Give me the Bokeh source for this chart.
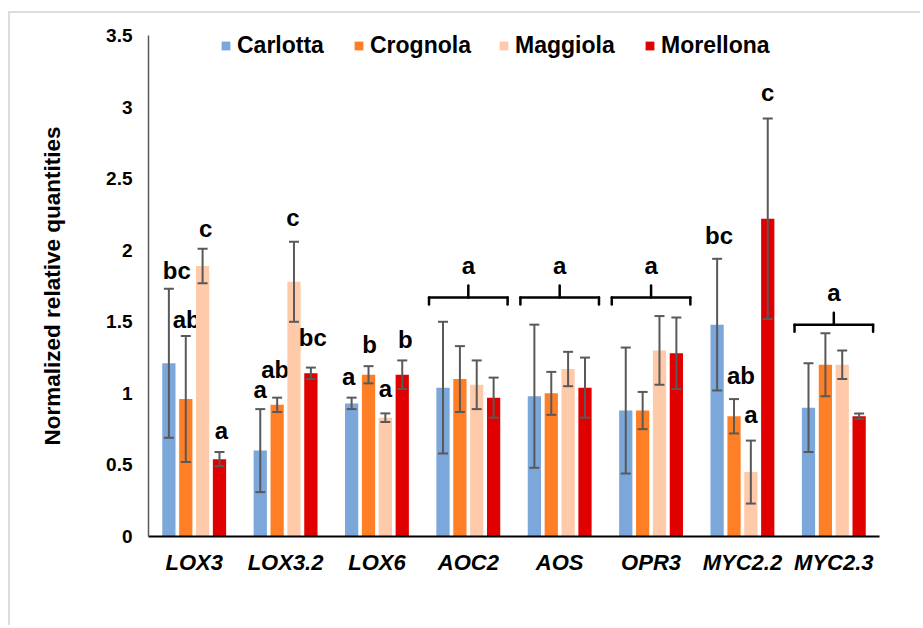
from bokeh.plotting import figure
from bokeh.models import (ColumnDataSource, FactorRange, Range1d, Whisker, TeeHead,
                          FixedTicker, NumeralTickFormatter, Legend, LegendItem)
from bokeh.transform import dodge
from bokeh.core.properties import value
from bokeh.embed import file_html
from bokeh.resources import INLINE

# ---------------- data ----------------
genes = ["LOX3", "LOX3.2", "LOX6", "AOC2", "AOS", "OPR3", "MYC2.2", "MYC2.3"]
cultivars = ["Carlotta", "Crognola", "Maggiola", "Morellona"]

carlotta = [1.21, 0.60, 0.93, 1.04, 0.98, 0.88, 1.48, 0.90]
carlotta_err = [0.52, 0.29, 0.04, 0.46, 0.50, 0.44, 0.46, 0.31]
crognola = [0.96, 0.92, 1.13, 1.10, 1.00, 0.88, 0.84, 1.20]
crognola_err = [0.44, 0.05, 0.06, 0.23, 0.15, 0.13, 0.12, 0.22]
maggiola = [1.89, 1.78, 0.83, 1.06, 1.17, 1.30, 0.45, 1.20]
maggiola_err = [0.12, 0.28, 0.03, 0.17, 0.12, 0.24, 0.22, 0.10]
morellona = [0.54, 1.14, 1.13, 0.97, 1.04, 1.28, 2.22, 0.84]
morellona_err = [0.05, 0.04, 0.10, 0.14, 0.21, 0.25, 0.70, 0.02]

letters_carlotta = ["bc", "a", "a", "", "", "", "bc", ""]
letters_crognola = ["ab", "ab", "b", "", "", "", "ab", ""]
letters_maggiola = ["c", "c", "a", "", "", "", "a", ""]
letters_morellona = ["a", "bc", "b", "", "", "", "c", ""]

bracket_genes = ["AOC2", "AOS", "OPR3", "MYC2.3"]
bracket_letters = ["a", "a", "a", "a"]

y_ticks = [0, 0.5, 1, 1.5, 2, 2.5, 3, 3.5]

# ---------------- layout / style ----------------
colors = ["#7BA7DB", "#FF7F27", "#FFCAAA", "#E00000"]
offsets = [-0.277, -0.092, 0.092, 0.277]
bar_w = 0.145
err_color = "#595959"
FONT = "Liberation Sans"

W, H = 912, 614
ML, MT = 138, 22            # canvas starts at (10, 13) on the page
FRAME_W, FRAME_H = 731, 501
MR = W - ML - FRAME_W
MB = H - MT - FRAME_H
px_y = FRAME_H / 3.5        # pixels per y unit
px_x = FRAME_W / len(genes) # pixels per category
BASE_FIX = 8                # rendered baseline sits lower than requested

# letter nudges (px right, px of baseline above the error bar top)
nudge = {
    ("LOX3", 0): (8, 10), ("LOX3", 1): (1, 9), ("LOX3", 2): (3, 12), ("LOX3", 3): (2, 14),
    ("LOX3.2", 0): (0, 12), ("LOX3.2", 1): (-2, 20), ("LOX3.2", 2): (-1, 16), ("LOX3.2", 3): (2, 22),
    ("LOX6", 0): (-3, 13), ("LOX6", 1): (1, 14), ("LOX6", 2): (0, 17), ("LOX6", 3): (3, 13),
    ("MYC2.2", 0): (2, 15), ("MYC2.2", 1): (7, 16), ("MYC2.2", 2): (0, 18), ("MYC2.2", 3): (0, 18),
}
bracket_y = [1.67, 1.67, 1.67, 1.48]
bracket_half = 0.43
bracket_drop = 7 / px_y
bracket_stem = 12 / px_y
bracket_text_gap = (12 + BASE_FIX) / px_y
legend_x = [72, 205, 350, 496]   # px from frame left
legend_y = 477                     # px from frame bottom

vals = [carlotta, crognola, maggiola, morellona]
errs = [carlotta_err, crognola_err, maggiola_err, morellona_err]
lets = [letters_carlotta, letters_crognola, letters_maggiola, letters_morellona]

data = {"gene": genes}
for c, v, e in zip(cultivars, vals, errs):
    data[c] = v
    data[c + "_up"] = [a + b for a, b in zip(v, e)]
    data[c + "_lo"] = [a - b for a, b in zip(v, e)]
src = ColumnDataSource(data)

p = figure(x_range=FactorRange(*genes, range_padding=0), y_range=Range1d(0, 3.5),
           width=W, height=H, output_backend="svg", toolbar_location=None,
           min_border_left=ML, min_border_right=MR, min_border_top=MT, min_border_bottom=MB)
p.styles = {"margin-left": "8px", "margin-top": "11px",
            "border-top": "2px solid #DCDCDC", "border-left": "2px solid #DCDCDC"}

txt_kw = dict(text_align="center", text_baseline="alphabetic", text_font=value(FONT),
              text_font_style="bold", text_font_size="24px", text_color="black")

bars = []
for i, c in enumerate(cultivars):
    r = p.vbar(x=dodge("gene", offsets[i], range=p.x_range), top=c, width=bar_w, source=src,
               fill_color=colors[i], line_color=None)
    bars.append(r)
    w = Whisker(base=dodge("gene", offsets[i], range=p.x_range), upper=c + "_up", lower=c + "_lo",
                source=src, line_color=err_color, line_width=2, level="overlay",
                upper_head=TeeHead(size=10, line_color=err_color, line_width=2),
                lower_head=TeeHead(size=10, line_color=err_color, line_width=2))
    p.add_layout(w)

    # significance letters
    for j, g in enumerate(genes):
        if lets[i][j]:
            dx, dy = nudge.get((g, i), (0, 14))
            ls = ColumnDataSource(dict(gene=[g], y=[data[c + "_up"][j] + (dy + BASE_FIX) / px_y],
                                       t=[lets[i][j]]))
            p.text(x=dodge("gene", offsets[i] + dx / px_x, range=p.x_range), y="y", text="t",
                   source=ls, **txt_kw)

# brackets
bsrc = ColumnDataSource(dict(gene=bracket_genes, y=bracket_y,
                             ylo=[b - bracket_drop for b in bracket_y],
                             yhi=[b + bracket_stem for b in bracket_y],
                             yt=[b + bracket_stem + bracket_text_gap for b in bracket_y],
                             t=bracket_letters))
bk = dict(line_color="black", line_width=2.5, line_cap="round", source=bsrc)
p.segment(x0=dodge("gene", -bracket_half, range=p.x_range), x1=dodge("gene", bracket_half, range=p.x_range),
          y0="y", y1="y", **bk)
p.segment(x0=dodge("gene", -bracket_half, range=p.x_range), x1=dodge("gene", -bracket_half, range=p.x_range),
          y0="y", y1="ylo", **bk)
p.segment(x0=dodge("gene", bracket_half, range=p.x_range), x1=dodge("gene", bracket_half, range=p.x_range),
          y0="y", y1="ylo", **bk)
p.segment(x0="gene", x1="gene", y0="y", y1="yhi", **bk)
p.text(x="gene", y="yt", text="t", source=bsrc, **txt_kw)

# axes
p.xgrid.grid_line_color = None
p.ygrid.grid_line_color = None
p.outline_line_color = None

p.yaxis.ticker = FixedTicker(ticks=y_ticks)
p.yaxis.formatter = NumeralTickFormatter(format="0.[0]")
p.yaxis.axis_line_color = err_color
p.yaxis.axis_line_width = 1.5
p.yaxis.major_tick_line_color = None
p.yaxis.minor_tick_line_color = None
p.yaxis.major_tick_out = 0
p.yaxis.major_tick_in = 0
p.yaxis.minor_tick_out = 0
p.yaxis.major_label_standoff = 16
p.yaxis.major_label_text_font = FONT
p.yaxis.major_label_text_font_style = "bold"
p.yaxis.major_label_text_font_size = "19px"
p.yaxis.major_label_text_color = "black"
p.yaxis.axis_label = "Normalized relative quantities"
p.yaxis.axis_label_text_font = FONT
p.yaxis.axis_label_text_font_style = "bold"
p.yaxis.axis_label_text_font_size = "22.5px"
p.yaxis.axis_label_text_color = "black"
p.yaxis.axis_label_standoff = 38

p.xaxis.axis_line_color = "black"
p.xaxis.axis_line_width = 2
p.xaxis.major_tick_line_color = None
p.xaxis.minor_tick_line_color = None
p.xaxis.major_tick_out = 0
p.xaxis.major_tick_in = 0
p.xaxis.minor_tick_out = 0
p.xaxis.major_label_standoff = 13
p.xaxis.major_label_text_font = FONT
p.xaxis.major_label_text_font_style = "bold italic"
p.xaxis.major_label_text_font_size = "22px"
p.xaxis.major_label_text_color = "black"

# legend: one single-item legend per cultivar, laid out in a row
for i, c in enumerate(cultivars):
    lg = Legend(items=[LegendItem(label=c, renderers=[bars[i]])],
                location=(legend_x[i], legend_y), orientation="horizontal",
                label_text_font=FONT, label_text_font_style="bold", label_text_font_size="23px",
                label_text_color="black", glyph_width=11, glyph_height=11, label_standoff=6,
                padding=0, margin=0, border_line_color=None, background_fill_alpha=0)
    p.add_layout(lg)

open("out.html", "w").write(file_html(p, INLINE))
